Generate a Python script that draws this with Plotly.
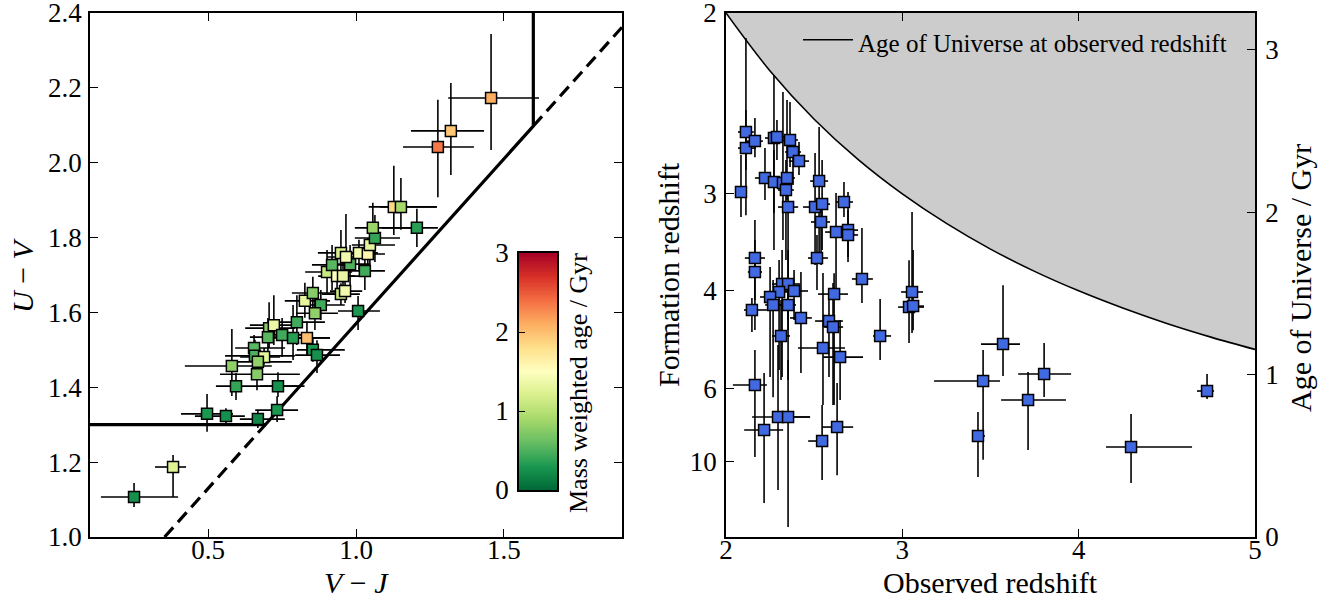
import numpy as np
import plotly.graph_objects as go

# ---------------- Left panel: UVJ diagram ----------------
vj = [0.249, 0.381, 0.496, 0.560, 0.668, 0.733, 0.594, 0.736, 0.580, 0.665,
      0.655, 0.658, 0.689, 0.668, 0.706, 0.722, 0.702, 0.750, 0.787, 0.834,
      0.854, 0.868, 0.800, 0.827, 0.854, 0.881, 0.861, 0.949, 0.963, 0.902,
      0.919, 0.936, 0.956, 0.980, 0.949, 0.966, 1.010, 1.040, 1.030, 1.047,
      1.064, 1.057, 1.128, 1.152, 1.206, 1.007, 1.277, 1.321, 1.457]
vj_err_lo = [0.112, 0.061, 0.088, 0.105, 0.061, 0.074, 0.068, 0.060, 0.159, 0.125,
             0.064, 0.101, 0.081, 0.068, 0.081, 0.081, 0.061, 0.068, 0.078, 0.058,
             0.054, 0.074, 0.074, 0.068, 0.071, 0.071, 0.064, 0.064, 0.051, 0.074,
             0.068, 0.064, 0.061, 0.061, 0.078, 0.064, 0.058, 0.061, 0.068, 0.061,
             0.068, 0.061, 0.085, 0.071, 0.118, 0.068, 0.118, 0.135, 0.145]
vj_err_hi = [0.149, 0.044, 0.088, 0.064, 0.091, 0.071, 0.223, 0.090, 0.135, 0.145,
             0.105, 0.135, 0.054, 0.115, 0.088, 0.088, 0.074, 0.078, 0.125, 0.078,
             0.108, 0.078, 0.095, 0.085, 0.091, 0.081, 0.078, 0.064, 0.058, 0.085,
             0.081, 0.061, 0.058, 0.068, 0.081, 0.081, 0.064, 0.058, 0.068, 0.085,
             0.085, 0.132, 0.145, 0.122, 0.071, 0.074, 0.122, 0.112, 0.162]
uv = [1.107, 1.187, 1.329, 1.323, 1.315, 1.339, 1.403, 1.403, 1.457, 1.435,
      1.505, 1.484, 1.481, 1.468, 1.558, 1.566, 1.534, 1.540, 1.532, 1.532,
      1.500, 1.486, 1.574, 1.631, 1.652, 1.620, 1.598, 1.649, 1.657, 1.708,
      1.727, 1.697, 1.697, 1.729, 1.759, 1.748, 1.759, 1.756, 1.711, 1.780,
      1.799, 1.826, 1.882, 1.882, 1.826, 1.604, 2.042, 2.085, 2.173]
uv_err_hi = [0.037, 0.032, 0.053, 0.021, 0.024, 0.037, 0.035, 0.037, 0.099, 0.037,
             0.035, 0.043, 0.024, 0.032, 0.069, 0.080, 0.051, 0.045, 0.088, 0.043,
             0.032, 0.040, 0.072, 0.048, 0.043, 0.040, 0.045, 0.029, 0.035, 0.059,
             0.053, 0.043, 0.056, 0.051, 0.061, 0.115, 0.035, 0.043, 0.056, 0.053,
             0.061, 0.067, 0.110, 0.077, 0.051, 0.040, 0.126, 0.128, 0.171]
uv_err_lo = [0.027, 0.080, 0.048, 0.024, 0.024, 0.032, 0.037, 0.029, 0.080, 0.043,
             0.045, 0.043, 0.021, 0.027, 0.053, 0.053, 0.056, 0.059, 0.059, 0.045,
             0.032, 0.048, 0.061, 0.045, 0.045, 0.040, 0.045, 0.029, 0.032, 0.056,
             0.067, 0.037, 0.043, 0.064, 0.059, 0.061, 0.045, 0.048, 0.051, 0.053,
             0.064, 0.067, 0.075, 0.061, 0.051, 0.051, 0.134, 0.118, 0.139]
mass_weighted_age = [0.25, 1.25, 0.30, 0.25, 0.20, 0.30, 0.40, 0.25, 0.80, 0.75,
                     0.55, 0.50, 1.30, 0.80, 0.75, 1.35, 0.55, 0.45, 0.35, 2.00,
                     0.30, 0.25, 0.45, 1.30, 0.75, 0.45, 0.80, 1.10, 1.40, 1.10,
                     0.55, 1.50, 1.35, 0.50, 1.20, 1.40, 1.40, 1.60, 0.45, 1.30,
                     0.40, 0.85, 1.85, 0.90, 0.35, 0.30, 2.35, 1.95, 2.10]

# UVJ quiescent selection criteria
UV_MIN = 1.3
VJ_MAX = 1.6
UVJ_SLOPE = 0.88
UVJ_INTERCEPT = 0.69
VJ_RANGE = [0.1, 1.9]
UV_RANGE = [1.0, 2.4]
AGE_CBAR_RANGE = [0.0, 3.0]

# ---------------- Right panel: formation vs observed redshift ----------------
z_obs = [2.113, 2.113, 2.164, 2.085, 2.221, 2.272, 2.289, 2.272, 2.323, 2.346,
         2.340, 2.352, 2.363, 2.380, 2.414, 2.528, 2.505, 2.545, 2.539, 2.669,
         2.624, 2.692, 2.692, 2.164, 2.164, 2.516, 2.318, 2.352, 2.386, 2.301,
         2.250, 2.267, 2.352, 2.147, 2.425, 2.771, 2.613, 2.584, 2.607, 2.874,
         3.055, 3.038, 3.061, 2.312, 2.550, 2.647, 2.164, 3.458, 2.295, 2.352,
         2.216, 2.630, 2.545, 3.429, 3.571, 3.804, 3.713, 4.297, 4.728]
z_obs_err_lo = [0.045, 0.045, 0.045, 0.034, 0.057, 0.051, 0.040, 0.051, 0.045, 0.045,
                0.045, 0.057, 0.045, 0.045, 0.057, 0.051, 0.068, 0.040, 0.057, 0.045,
                0.062, 0.045, 0.045, 0.057, 0.040, 0.051, 0.057, 0.045, 0.051, 0.051,
                0.057, 0.045, 0.045, 0.045, 0.062, 0.057, 0.091, 0.079, 0.051, 0.040,
                0.062, 0.062, 0.045, 0.051, 0.142, 0.096, 0.125, 0.278, 0.147, 0.057,
                0.113, 0.085, 0.079, 0.028, 0.125, 0.147, 0.153, 0.142, 0.057]
z_obs_err_hi = [0.045, 0.057, 0.045, 0.034, 0.057, 0.051, 0.045, 0.051, 0.045, 0.045,
                0.045, 0.057, 0.045, 0.045, 0.057, 0.051, 0.057, 0.045, 0.051, 0.051,
                0.068, 0.057, 0.057, 0.057, 0.040, 0.062, 0.057, 0.068, 0.079, 0.062,
                0.057, 0.051, 0.045, 0.085, 0.062, 0.062, 0.079, 0.079, 0.057, 0.062,
                0.062, 0.085, 0.062, 0.051, 0.125, 0.130, 0.068, 0.096, 0.181, 0.125,
                0.108, 0.091, 0.034, 0.040, 0.096, 0.153, 0.215, 0.346, 0.040]
# age of the Universe at formation (Gyr), read on the right-hand axis
age_form = [2.494, 2.395, 2.438, 2.124, 2.211, 2.457, 2.463, 2.186, 2.180, 2.211,
            2.137, 2.032, 2.445, 2.371, 2.315, 2.192, 2.032, 2.050, 1.940, 2.063,
            1.878, 1.890, 1.860, 1.718, 1.632, 1.718, 1.558, 1.558, 1.515, 1.509,
            1.478, 1.429, 1.429, 1.398, 1.349, 1.589, 1.496, 1.330, 1.293, 1.238,
            1.509, 1.416, 1.422, 1.238, 1.164, 1.108, 0.936, 0.961, 0.739, 0.739,
            0.659, 0.677, 0.591, 0.622, 1.188, 1.004, 0.844, 0.554, 0.899]
age_form_err_hi = [0.579, 0.234, 0.142, 0.228, 0.185, 0.388, 0.105, 0.197, 0.560, 0.480,
                   0.185, 0.166, 0.234, 0.062, 0.117, 0.333, 0.333, 0.271, 0.135, 0.123,
                   0.240, 0.234, 0.154, 0.234, 0.197, 0.142, 0.209, 0.209, 0.129, 0.197,
                   0.185, 0.154, 0.154, 0.074, 0.283, 0.314, 0.129, 0.129, 0.271, 0.228,
                   0.493, 0.289, 0.345, 0.222, 0.462, 0.228, 0.216, 0.191, 0.443, 0.351,
                   0.351, 0.271, 0.222, 0.148, 0.363, 0.191, 0.172, 0.203, 0.105]
age_form_err_lo = [0.234, 0.413, 0.099, 0.154, 0.135, 0.462, 0.142, 0.419, 0.351, 0.135,
                   0.431, 0.757, 0.166, 0.203, 0.086, 0.486, 0.357, 0.283, 0.265, 0.092,
                   0.419, 0.166, 0.166, 0.259, 0.357, 0.197, 0.573, 0.222, 0.179, 0.480,
                   0.493, 0.569, 0.462, 0.135, 0.339, 0.148, 0.683, 0.345, 0.480, 0.148,
                   0.253, 0.222, 0.148, 0.271, 0.351, 0.265, 0.443, 0.486, 0.450, 0.677,
                   0.450, 0.296, 0.240, 0.252, 0.197, 0.142, 0.308, 0.222, 0.049]

# Age of the Universe at observed redshift (curve), Gyr
curve_z = [2.0, 2.25, 2.5, 2.75, 3.0, 3.25, 3.5, 3.75, 4.0, 4.25, 4.5, 4.75, 5.0]
curve_age = [3.227, 2.870, 2.573, 2.324, 2.113, 1.931, 1.773, 1.636, 1.516,
             1.410, 1.315, 1.231, 1.155]
AGE_AXIS_MAX = 3.227
Z_OBS_RANGE = [2, 5]

# formation-redshift tick labels and their age positions (Gyr)
zform_tick_text = ["2", "3", "4", "6", "10"]
zform_tick_age = [3.227, 2.113, 1.516, 0.917, 0.466]
age_ticks = [0, 1, 2, 3]

# ---------------- Layout geometry (page pixels) ----------------
W, H = 1335, 605
PLOT_L, PLOT_R, PLOT_T, PLOT_B = 90, 1255, 13, 537
ML, MR, MT, MB = PLOT_L, W - PLOT_R, PLOT_T, H - PLOT_B
PW = PLOT_R - PLOT_L
PH = PLOT_B - PLOT_T


def px(x):
    return (x - PLOT_L) / PW


def py(y):
    return (PLOT_B - y) / PH


FONT = "Liberation Serif"
TICK_SIZE = 27
TITLE_SIZE = 30

fig = go.Figure()

# UVJ selection lines
x_int = (UV_MIN - UVJ_INTERCEPT) / UVJ_SLOPE
y_at_max = UVJ_SLOPE * VJ_MAX + UVJ_INTERCEPT
x_bottom = (UV_RANGE[0] - UVJ_INTERCEPT) / UVJ_SLOPE
fig.add_trace(go.Scatter(
    x=[x_bottom, x_int, None, VJ_MAX, VJ_RANGE[1]],
    y=[UV_RANGE[0], UV_MIN, None, y_at_max, UVJ_SLOPE * VJ_RANGE[1] + UVJ_INTERCEPT],
    mode="lines", line=dict(color="black", width=3.2, dash="13px,7px"),
    showlegend=False, hoverinfo="skip", xaxis="x", yaxis="y"))
fig.add_trace(go.Scatter(
    x=[VJ_RANGE[0], x_int, VJ_MAX, VJ_MAX],
    y=[UV_MIN, UV_MIN, y_at_max, UV_RANGE[1]],
    mode="lines", line=dict(color="black", width=3.2),
    showlegend=False, hoverinfo="skip", xaxis="x", yaxis="y"))

colorscale = "RdYlGn_r"

fig.add_trace(go.Scatter(
    x=vj, y=uv, mode="markers",
    error_x=dict(type="data", symmetric=False, array=vj_err_hi, arrayminus=vj_err_lo,
                 color="black", thickness=1.6, width=0),
    error_y=dict(type="data", symmetric=False, array=uv_err_hi, arrayminus=uv_err_lo,
                 color="black", thickness=1.6, width=0),
    marker=dict(symbol="square", size=11, color=mass_weighted_age,
                colorscale=colorscale, cmin=AGE_CBAR_RANGE[0], cmax=AGE_CBAR_RANGE[1],
                line=dict(color="black", width=1.5), showscale=False),
    showlegend=False, xaxis="x", yaxis="y"))

# colour bar drawn as a heatmap on its own small axes
levels = np.linspace(AGE_CBAR_RANGE[0], AGE_CBAR_RANGE[1], 301)
fig.add_trace(go.Heatmap(
    z=[[v] for v in levels], x=[0], y=levels, colorscale=colorscale,
    zmin=AGE_CBAR_RANGE[0], zmax=AGE_CBAR_RANGE[1], showscale=False,
    hoverinfo="skip", xaxis="x3", yaxis="y3"))

# Right panel: shaded region above the age-of-universe curve
fig.add_trace(go.Scatter(
    x=Z_OBS_RANGE, y=[AGE_AXIS_MAX, AGE_AXIS_MAX],
    mode="lines", line=dict(width=0, color="rgba(0,0,0,0)"),
    showlegend=False, hoverinfo="skip", xaxis="x2", yaxis="y2"))
fig.add_trace(go.Scatter(
    x=curve_z, y=curve_age, mode="lines",
    line=dict(color="black", width=1.6, shape="spline"),
    fill="tonexty", fillcolor="#cccccc",
    name="Age of Universe at observed redshift", xaxis="x2", yaxis="y2"))

fig.add_trace(go.Scatter(
    x=z_obs, y=age_form, mode="markers",
    error_x=dict(type="data", symmetric=False, array=z_obs_err_hi, arrayminus=z_obs_err_lo,
                 color="black", thickness=1.6, width=0),
    error_y=dict(type="data", symmetric=False, array=age_form_err_hi, arrayminus=age_form_err_lo,
                 color="black", thickness=1.6, width=0),
    marker=dict(symbol="square", size=11, color="royalblue",
                line=dict(color="black", width=1.5)),
    showlegend=False, xaxis="x2", yaxis="y2"))

# invisible trace so that the right-hand age axis is drawn
fig.add_trace(go.Scatter(
    x=curve_z, y=curve_age, mode="lines", line=dict(width=0, color="rgba(0,0,0,0)"),
    showlegend=False, hoverinfo="skip", xaxis="x2", yaxis="y4"))

axis_common = dict(showline=True, linecolor="black", linewidth=1.5, ticks="inside",
                   ticklen=8, tickwidth=1.3, tickcolor="black", showgrid=False,
                   zeroline=False, automargin=False, ticklabeloverflow="allow",
                   tickfont=dict(family=FONT, size=TICK_SIZE, color="black"))

left_dom = [0, px(622)]
right_dom = [px(726), 1]

fig.update_layout(
    width=W, height=H, margin=dict(l=ML, r=MR, t=MT, b=MB, autoexpand=False),
    paper_bgcolor="white", plot_bgcolor="white",
    font=dict(family=FONT, color="black"),
    xaxis=dict(domain=left_dom, range=VJ_RANGE, anchor="y", tickvals=[0.5, 1.0, 1.5],
               ticktext=["0.5", "1.0", "1.5"], mirror="ticks", ticklabelstandoff=-12, **axis_common),
    yaxis=dict(domain=[0, 1], range=UV_RANGE, anchor="x",
               tickvals=[1.0, 1.2, 1.4, 1.6, 1.8, 2.0, 2.2, 2.4],
               ticktext=["1.0", "1.2", "1.4", "1.6", "1.8", "2.0", "2.2", "2.4"],
               mirror="ticks", ticklabelstandoff=1, **axis_common),
    xaxis2=dict(domain=right_dom, range=Z_OBS_RANGE, anchor="y2", tickvals=[2, 3, 4, 5],
                mirror="ticks", ticklabelstandoff=-12, **axis_common),
    yaxis2=dict(domain=[0, 1], range=[0, AGE_AXIS_MAX], anchor="x2",
                tickvals=zform_tick_age, ticktext=zform_tick_text, side="left",
                ticklabelstandoff=2, **axis_common),
    yaxis4=dict(range=[0, AGE_AXIS_MAX], overlaying="y2", anchor="x2", side="right",
                tickvals=age_ticks, ticklabelstandoff=3, **axis_common),
    xaxis3=dict(domain=[px(519), px(557)], range=[-0.5, 0.5], anchor="y3",
                showticklabels=False, showline=True, linecolor="black", linewidth=1.5,
                mirror=True, ticks="", showgrid=False, zeroline=False, automargin=False),
    yaxis3=dict(domain=[py(490), py(253)], range=AGE_CBAR_RANGE, anchor="x3",
                tickvals=[0, 1, 2, 3], showline=True, linecolor="black", linewidth=1.5,
                mirror=True, ticks="inside", ticklen=6, tickwidth=1.2, tickcolor="black",
                showgrid=False, zeroline=False, ticklabelstandoff=3, automargin=False,
                ticklabeloverflow="allow",
                tickfont=dict(family=FONT, size=TICK_SIZE, color="black")),
    legend=dict(x=px(798), y=py(19), xanchor="left", yanchor="top",
                bgcolor="rgba(0,0,0,0)", borderwidth=0, itemwidth=50,
                font=dict(family=FONT, size=25, color="black")),
)

ann = dict(showarrow=False, xref="paper", yref="paper", xanchor="center", yanchor="middle",
           font=dict(family=FONT, size=TITLE_SIZE, color="black"))
fig.add_annotation(text="<i>U</i> − <i>V</i>", x=px(22), y=py(275), textangle=-90, **ann)
fig.add_annotation(text="<i>V</i> − <i>J</i>", x=px(356), y=py(582), **ann)
fig.add_annotation(text="Formation redshift", x=px(668), y=py(275), textangle=-90, **ann)
fig.add_annotation(text="Observed redshift", x=px(990), y=py(582), **ann)
fig.add_annotation(text="Age of Universe / Gyr", x=px(1300), y=py(278), textangle=-90, **ann)
fig.add_annotation(text="Mass weighted age / Gyr", x=px(578), y=py(383), textangle=-90,
                   showarrow=False, xref="paper", yref="paper", xanchor="center",
                   yanchor="middle", font=dict(family=FONT, size=26, color="black"))

# remove the browser's default 8px body margin so the figure sits at the page origin
fig.write_html("out.html", config={"displayModeBar": False},
               post_script="document.body.style.margin='0px';")
